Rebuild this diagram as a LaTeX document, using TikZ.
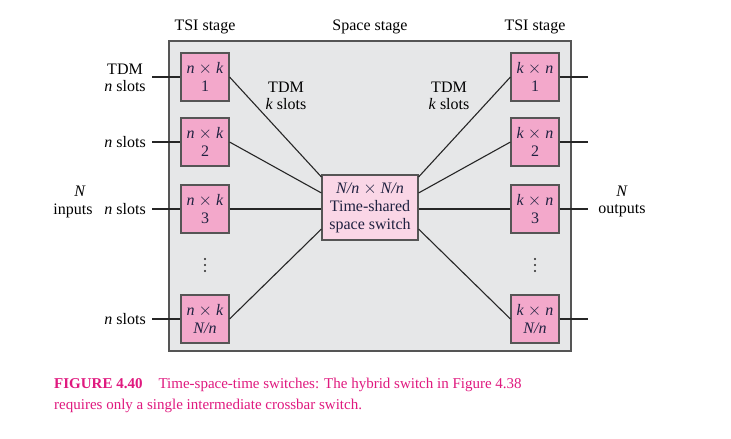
\documentclass[tikz,border=0pt]{standalone}
\usepackage{fontspec}
\setmainfont{Liberation Serif}
\usetikzlibrary{calc}
\definecolor{panel}{HTML}{E6E7E8}
\definecolor{tsipink}{HTML}{F3A8CB}
\definecolor{cpink}{HTML}{FAD6E6}
\definecolor{edge}{HTML}{555555}
\definecolor{boxtext}{HTML}{1F2140}
\definecolor{capcol}{HTML}{E0197F}
\newcommand{\tms}{ $\times$ }
\tikzset{
  tsi/.style={draw=edge, line width=1.1pt, fill=tsipink, minimum width=48pt, minimum height=48pt, inner sep=0pt, align=center, text=boxtext, font=\fontsize{16}{18.5}\selectfont},
  sw/.style={draw=edge, line width=1.1pt, fill=cpink, minimum width=96pt, minimum height=65pt, inner sep=0pt, align=center, text=boxtext, font=\fontsize{16}{18}\selectfont},
  lbl/.style={align=center, inner sep=0pt, font=\fontsize{16}{17.5}\selectfont},
  wire/.style={line width=1.1pt, draw=black!85},
  dot/.style={fill=black!85, circle, inner sep=0pt, minimum size=2.4pt},
}
\begin{document}
\begin{tikzpicture}[x=1pt,y=-1pt]
\useasboundingbox (0,0) rectangle (731,439);
\fill[white] (0,0) rectangle (731,439);
\draw[edge, line width=1.2pt, fill=panel] (169,41) rectangle (571,351);

% stage titles
\node[lbl] (t1) at (205,27) {TSI stage};
\node[lbl] (t2) at (370,27) {Space stage};
\node[lbl] (t3) at (535,27) {TSI stage};

% left TSI boxes
\node[tsi] (L1) at (205,77) {\textit{n}\tms\textit{k}\\1};
\node[tsi] (L2) at (205,142) {\textit{n}\tms\textit{k}\\2};
\node[tsi] (L3) at (205,209) {\textit{n}\tms\textit{k}\\3};
\node[tsi] (L4) at (205,319) {\textit{n}\tms\textit{k}\\\textit{N/n}};
% right TSI boxes
\node[tsi] (R1) at (535,77) {\textit{k}\tms\textit{n}\\1};
\node[tsi] (R2) at (535,142) {\textit{k}\tms\textit{n}\\2};
\node[tsi] (R3) at (535,209) {\textit{k}\tms\textit{n}\\3};
\node[tsi] (R4) at (535,319) {\textit{k}\tms\textit{n}\\\textit{N/n}};
% space switch
\node[sw] (C) at (370,207.5) {\textit{N/n}\tms\textit{N/n}\\Time-shared\\space switch};

% vertical ellipses
\foreach \yy in {259,265,271} {
  \node[dot] at (205,\yy) {};
  \node[dot] at (535,\yy) {};
}

% attach points on the space switch
\coordinate (y1) at (0,177);
\coordinate (y2) at (0,193);
\coordinate (y3) at (0,209);
\coordinate (y4) at (0,229);
\draw[wire] (L1.east) -- (C.west |- y1);
\draw[wire] (L2.east) -- (C.west |- y2);
\draw[wire] (L3.east) -- (C.west |- y3);
\draw[wire] (L4.east) -- (C.west |- y4);
\draw[wire] (R1.west) -- (C.east |- y1);
\draw[wire] (R2.west) -- (C.east |- y2);
\draw[wire] (R3.west) -- (C.east |- y3);
\draw[wire] (R4.west) -- (C.east |- y4);

% inputs
\coordinate (i1) at (152,77);
\coordinate (i2) at (152,142);
\coordinate (i3) at (152,209);
\coordinate (i4) at (152,319);
\draw[wire] (i1) -- (L1.west);
\draw[wire] (i2) -- (L2.west);
\draw[wire] (i3) -- (L3.west);
\draw[wire] (i4) -- (L4.west);
% outputs
\coordinate (o1) at (588,77);
\coordinate (o2) at (588,142);
\coordinate (o3) at (588,209);
\coordinate (o4) at (588,319);
\draw[wire] (R1.east) -- (o1);
\draw[wire] (R2.east) -- (o2);
\draw[wire] (R3.east) -- (o3);
\draw[wire] (R4.east) -- (o4);

% labels
\node[lbl] (tdm1) at (125,78) {TDM\\\textit{n} slots};
\node[lbl, anchor=east] (ns2) at (146,142) {\textit{n} slots};
\node[lbl, anchor=east] (ns3) at (146,209) {\textit{n} slots};
\node[lbl, anchor=east] (ns4) at (146,319) {\textit{n} slots};
\node[lbl] (kl) at (286,96) {TDM\\\textit{k} slots};
\node[lbl] (kr) at (449,96) {TDM\\\textit{k} slots};
\node[lbl] (Nin) at (80,191) {\textit{N}};
\node[lbl] (inp) at (73,211) {inputs};
\node[lbl] (Nout) at (622,191) {\textit{N}};
\node[lbl] (outp) at (622,211) {outputs};

% caption
\node[anchor=base west, inner sep=0pt, text=capcol, font=\fontsize{15}{18}\selectfont] (cap1) at (54,388) {\textbf{FIGURE 4.40}\hspace{16pt}Time-space-time switches: The hybrid switch in Figure 4.38};
\node[anchor=base west, inner sep=0pt, text=capcol, font=\fontsize{15}{18}\selectfont] (cap2) at (54,409) {requires only a single intermediate crossbar switch.};
\end{tikzpicture}
\end{document}
